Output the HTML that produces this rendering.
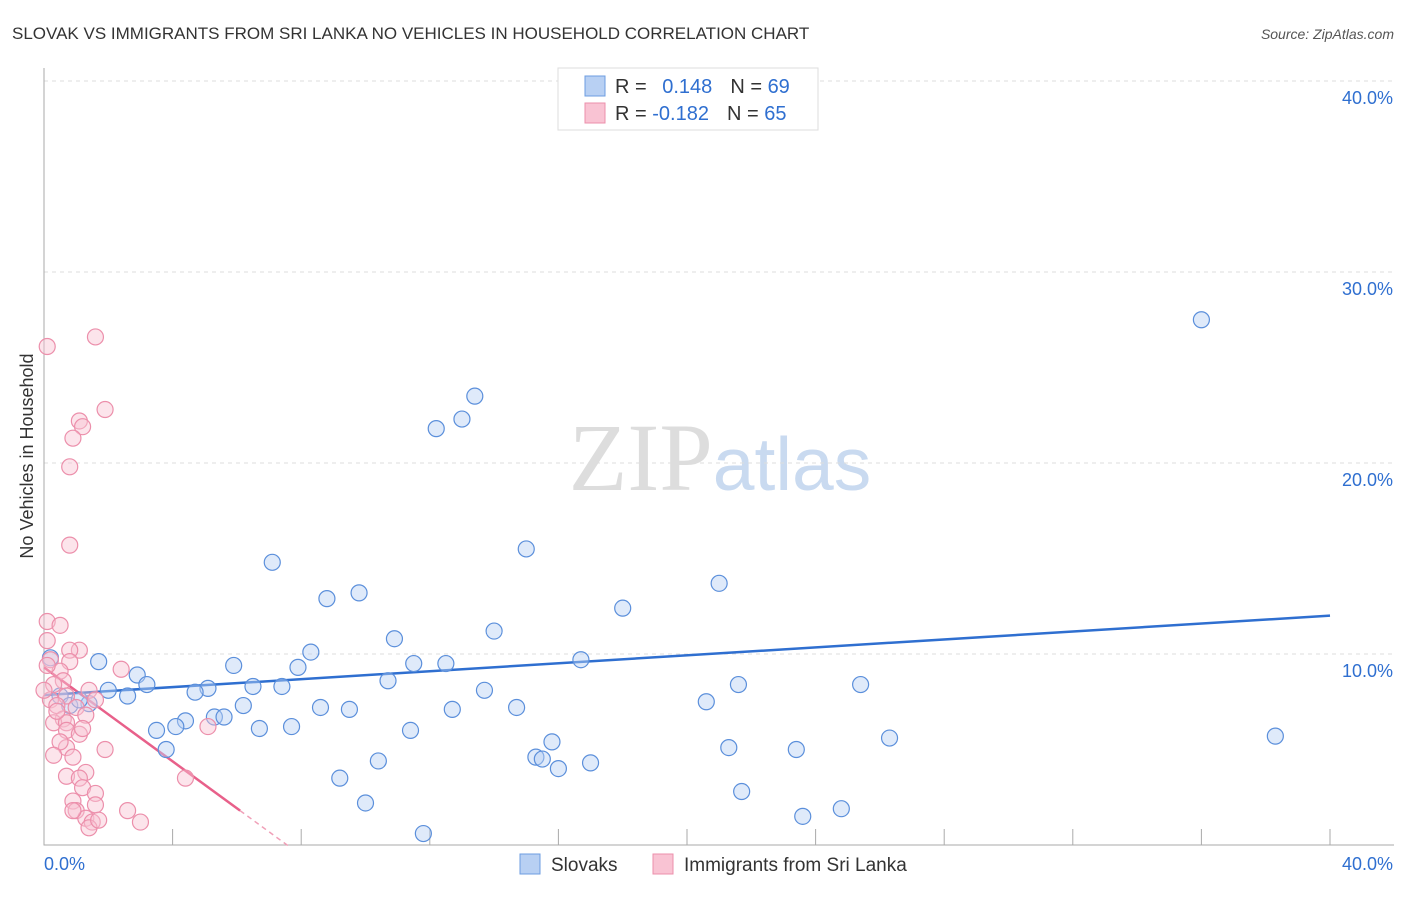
<!DOCTYPE html>
<html><head><meta charset="utf-8"><style>
body{margin:0;background:#fff;font-family:"Liberation Sans",sans-serif;}
svg text{font-family:"Liberation Sans",sans-serif;}
</style></head><body>
<svg id="chart" width="1406" height="892" xmlns="http://www.w3.org/2000/svg">
<text x="12" y="39" font-size="17" fill="#333">SLOVAK VS IMMIGRANTS FROM SRI LANKA NO VEHICLES IN HOUSEHOLD CORRELATION CHART</text>
<text x="1394" y="39" font-size="14" fill="#555" text-anchor="end" font-style="italic">Source: ZipAtlas.com</text>
<text x="720" y="490" font-size="96" text-anchor="middle"><tspan fill="#ddd" font-family="Liberation Serif">ZIP</tspan><tspan fill="#c9daf0" font-size="75">atlas</tspan></text>
<text transform="translate(33,456) rotate(-90)" font-size="18" fill="#333" text-anchor="middle">No Vehicles in Household</text>
<g id="grid"></g><g id="axes"></g><g id="trends"></g><g id="pts"></g>
<g>
<rect x="558" y="68" width="260" height="62" fill="#fff" stroke="#ddd"/>
<rect x="585" y="76" width="20" height="20" fill="#b8d0f3" stroke="#6d9de0"/>
<rect x="585" y="103" width="20" height="20" fill="#f9c3d3" stroke="#ec8fab"/>
<text x="615" y="93" font-size="20" fill="#333">R = <tspan fill="#2f6fd0" dx="10">0.148</tspan><tspan dx="18" fill="#333">N = </tspan><tspan fill="#2f6fd0">69</tspan></text>
<text x="615" y="120" font-size="20" fill="#333">R = <tspan fill="#2f6fd0">-0.182</tspan><tspan dx="18" fill="#333">N = </tspan><tspan fill="#2f6fd0">65</tspan></text>
</g>
<g>
<rect x="520" y="854" width="20" height="20" fill="#b8d0f3" stroke="#6d9de0"/>
<text x="551" y="871" font-size="19" fill="#333">Slovaks</text>
<rect x="653" y="854" width="20" height="20" fill="#f9c3d3" stroke="#ec8fab"/>
<text x="684" y="871" font-size="19" fill="#333">Immigrants from Sri Lanka</text>
</g>
</svg>
<script>
const yTicks=[10,20,30,40];
const yTickLabels=["10.0%","20.0%","30.0%","40.0%"];
const xLabels=["0.0%","40.0%"];
const blueX=[36.0,13.4,13.0,12.2,7.1,15.0,21.0,9.8,8.8,18.0,14.0,10.9,8.3,1.7,5.9,7.9,11.5,12.5,16.7,2.9,3.2,5.1,4.7,6.5,7.4,10.7,13.7,21.6,25.4,2.0,2.6,1.4,6.2,8.6,9.5,12.7,14.7,20.6,4.4,5.3,5.6,3.5,4.1,6.7,7.7,11.4,15.8,26.3,38.3,3.8,21.3,23.4,10.4,15.3,15.5,16.0,17.0,9.2,21.7,10.0,24.8,23.6,11.8,0.2,0.5,0.8,1.1];
const blueY=[27.5,23.5,22.3,21.8,14.8,15.5,13.7,13.2,12.9,12.4,11.2,10.8,10.1,9.6,9.4,9.3,9.5,9.5,9.7,8.9,8.4,8.2,8.0,8.3,8.3,8.6,8.1,8.4,8.4,8.1,7.8,7.4,7.3,7.2,7.1,7.1,7.2,7.5,6.5,6.7,6.7,6.0,6.2,6.1,6.2,6.0,5.4,5.6,5.7,5.0,5.1,5.0,4.4,4.6,4.5,4.0,4.3,3.5,2.8,2.2,1.9,1.5,0.6,9.8,7.8,7.3,7.6];
const pinkX=[0.1,1.6,1.9,1.1,1.2,0.9,0.8,0.8,0.1,0.5,1.1,0.8,0.1,0.2,0.8,2.4,0.5,0.6,0.3,1.4,0.7,0.2,0.4,1.0,1.3,0.6,0.3,0.7,5.1,0.7,1.1,0.7,1.9,0.9,1.3,0.7,1.1,4.4,1.2,1.6,0.9,1.0,1.6,2.6,1.3,1.5,1.4,3.0,0.1,0.4,0.0,0.5,0.3,1.6,1.2,0.9,1.7];
const pinkY=[26.1,26.6,22.8,22.2,21.9,21.3,19.8,15.7,11.7,11.5,10.2,10.2,10.7,9.7,9.6,9.2,9.1,8.6,8.4,8.1,7.8,7.6,7.3,7.2,6.8,6.6,6.4,6.4,6.2,6.0,5.8,5.1,5.0,4.6,3.8,3.6,3.5,3.5,3.0,2.7,2.3,1.8,2.1,1.8,1.4,1.2,0.9,1.2,9.4,7.0,8.1,5.4,4.7,7.6,6.1,1.8,1.3];
const blueTrend=[7.85,0.104];   // intercept, slope
const pinkTrend=[9.3,-1.23];
const pinkSolidEnd=6.1, pinkDashEnd=7.6;
const X=v=>44+v*32.15, Y=v=>845-v*19.1;
const NS="http://www.w3.org/2000/svg";
function mk(p,t,a){const e=document.createElementNS(NS,t);for(const k in a)e.setAttribute(k,a[k]);document.getElementById(p).appendChild(e);return e;}
yTicks.forEach((t,i)=>{
 const g=mk('grid','line',{x1:44,x2:1394,y1:Y(t),y2:Y(t),stroke:'#ddd','stroke-dasharray':'4,4'});
 
 
 const l=mk('grid','text',{x:1393,y:Y(t)+23,'font-size':18,fill:'#2f6fd0','text-anchor':'end'});
 l.textContent=yTickLabels[i];
 
 
});
const ax=mk('axes','path',{d:'M44,68V845H1394',stroke:'#aaa',fill:'none'});


for(let i=1;i<=10;i++){const t=mk('axes','line',{x1:X(i*4),x2:X(i*4),y1:829,y2:845,stroke:'#aaa'});
 
 }
const xl0=mk('axes','text',{x:44,y:870,'font-size':18,fill:'#2f6fd0'});xl0.textContent=xLabels[0];


const xl1=mk('axes','text',{x:1393,y:870,'font-size':18,fill:'#2f6fd0','text-anchor':'end'});xl1.textContent=xLabels[1];


function pt(x,y,fill,stroke,name){const c=mk('pts','circle',{cx:X(x),cy:Y(y),r:8,fill:fill,stroke:stroke,'stroke-width':1.2,'fill-opacity':0.45});
 
 }
blueX.forEach((x,i)=>pt(x,blueY[i],'#b8d0f3','#5b8fdb','slovak-point'));
pinkX.forEach((x,i)=>pt(x,pinkY[i],'#f9c3d3','#ec8fab','sri-lanka-point'));
const bt=mk('trends','line',{x1:X(0),y1:Y(blueTrend[0]),x2:X(40),y2:Y(blueTrend[0]+40*blueTrend[1]),stroke:'#2f6fd0','stroke-width':2.5});


const pt1=mk('trends','line',{x1:X(0),y1:Y(pinkTrend[0]),x2:X(pinkSolidEnd),y2:Y(pinkTrend[0]+pinkSolidEnd*pinkTrend[1]),stroke:'#e8608a','stroke-width':2.5});


const pt2=mk('trends','line',{x1:X(pinkSolidEnd),y1:Y(pinkTrend[0]+pinkSolidEnd*pinkTrend[1]),x2:X(pinkDashEnd),y2:Y(pinkTrend[0]+pinkDashEnd*pinkTrend[1]),stroke:'#f0a0b8','stroke-width':1.5,'stroke-dasharray':'5,4'});


</script>
</body></html>
